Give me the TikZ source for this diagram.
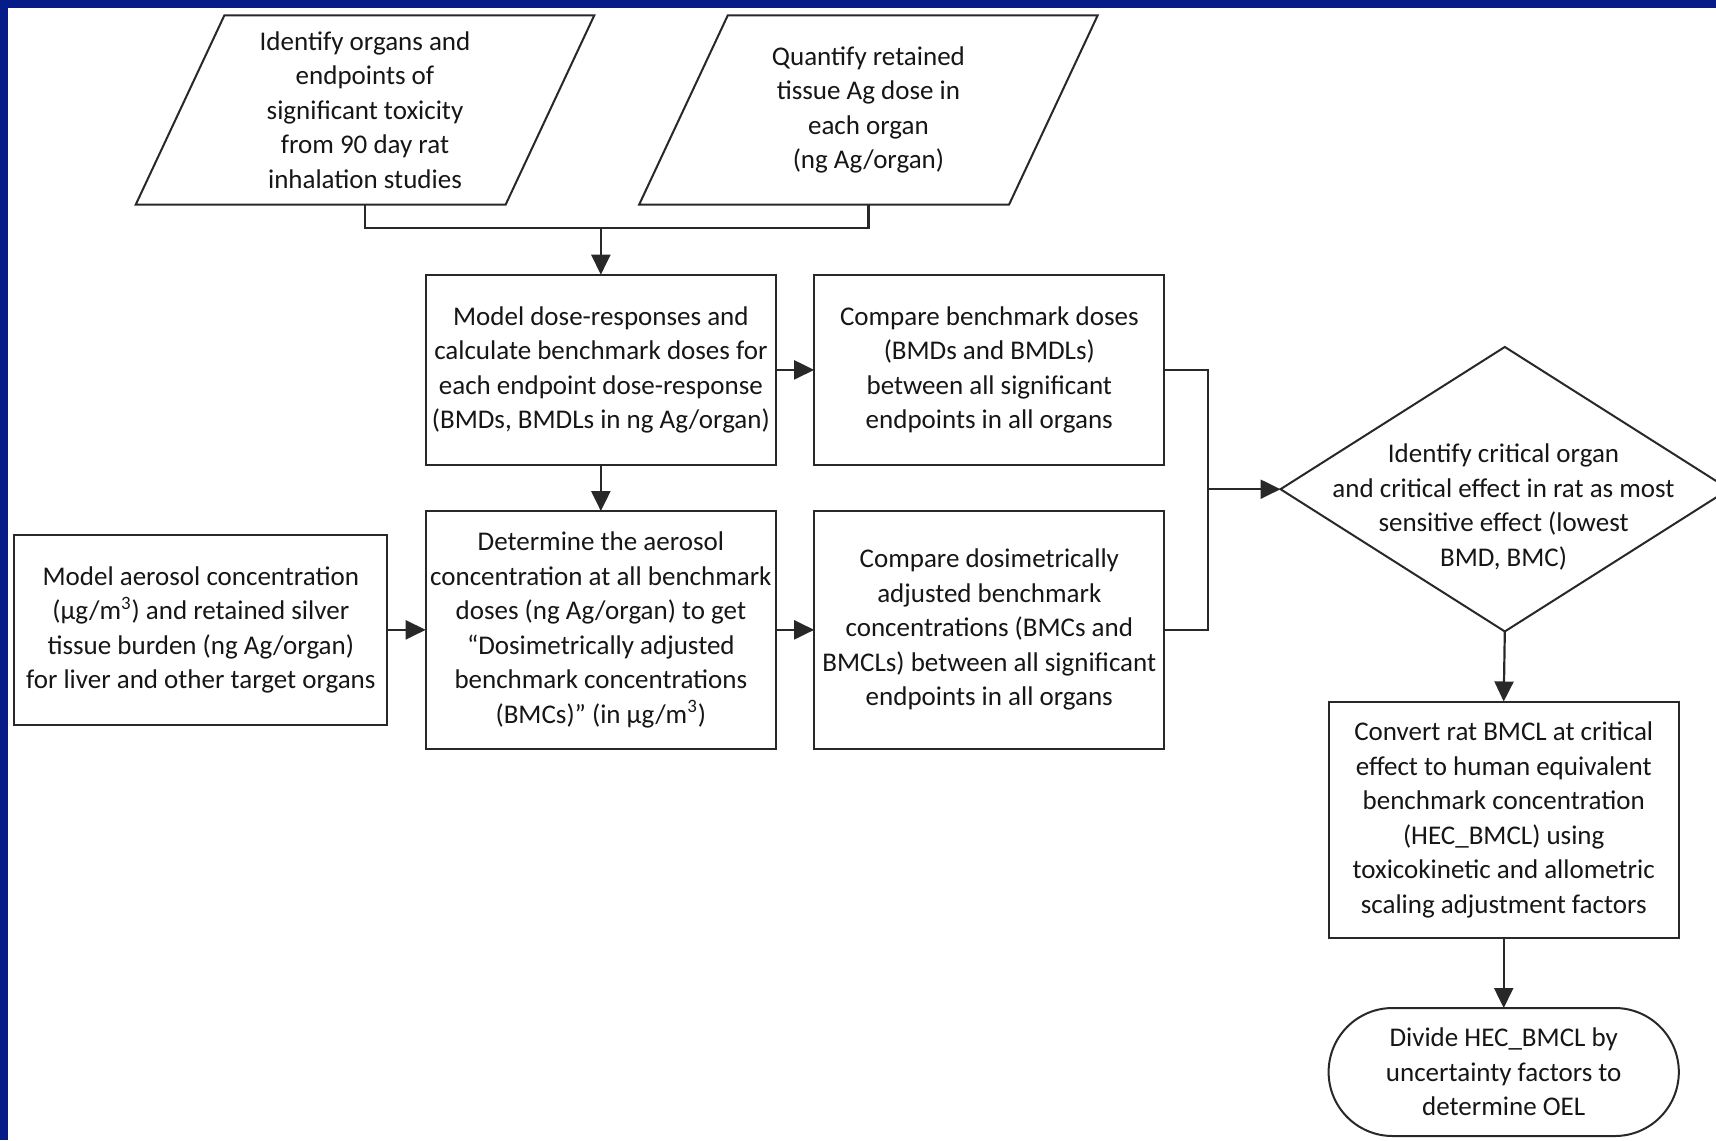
\documentclass[tikz,border=0pt]{standalone}
\usepackage{fontspec}
\setmainfont{Carlito}
\usetikzlibrary{arrows.meta,shapes.geometric}
\definecolor{frameblue}{RGB}{6,28,136}
\definecolor{linegray}{RGB}{40,40,40}
\definecolor{inkgray}{RGB}{22,22,22}
\begin{document}
\begin{tikzpicture}[x=0.5pt,y=-0.5pt,
  every node/.style={font=\fontsize{13.5}{17.25}\selectfont, text=inkgray, align=center, inner sep=0pt, outer sep=0pt},
  box/.style={draw=linegray, line width=1pt, fill=white, minimum width=175.15pt, minimum height=95.2pt},
  tallbox/.style={box, minimum height=118.75pt},
  paratext/.style={minimum width=229.3pt, minimum height=94.7pt},
  decision/.style={draw=linegray, line width=1pt, diamond, minimum width=224.3pt, minimum height=142.25pt},
  terminal/.style={draw=linegray, line width=1pt, rounded corners=32pt, minimum width=175.1pt, minimum height=64pt},
  link/.style={draw=linegray, line width=1.1pt},
  flow/.style={link, -{Triangle[length=10pt,width=9.5pt]}}
]
% page and frame
\useasboundingbox (0,0) rectangle (1716,1140);
\fill[white] (0,0) rectangle (1716,1140);
\fill[frameblue] (0,0) rectangle (1716,8);
\fill[frameblue] (0,0) rectangle (8,1140);

% inputs (parallelograms drawn around their text nodes)
\node[paratext] (p1) at (365,110) {Identify organs and\\ endpoints of\\ significant toxicity\\ from 90 day rat\\ inhalation studies};
\node[paratext] (p2) at (868.4,110) {Quantify retained\\ tissue Ag dose in\\ each organ\\ (ng Ag/organ)};
\foreach \p in {p1,p2}
  \draw[link, line width=1pt, line join=miter] (\p.center) +(-140.6,-94.7) -- +(229.3,-94.7) -- +(140.6,94.7) -- +(-229.3,94.7) -- cycle;

% process boxes
\node[box] (b1) at (600.85,369.9) {Model dose-responses and\\ calculate benchmark doses for\\ each endpoint dose-response\\ (BMDs, BMDLs in ng Ag/organ)};
\node[box] (b2) at (989.3,369.9) {Compare benchmark doses\\ (BMDs and BMDLs)\\ between all significant\\ endpoints in all organs};
\node[box, minimum width=186.6pt, minimum height=94.65pt] (b0) at (200.8,629.85) {Model aerosol concentration\\ (µg/m\textsuperscript{3}) and retained silver\\ tissue burden (ng Ag/organ)\\ for liver and other target organs};
\node[tallbox] (b3) at (600.85,629.85) {Determine the aerosol\\ concentration at all benchmark\\ doses (ng Ag/organ) to get\\ “Dosimetrically adjusted\\ benchmark concentrations\\ (BMCs)” (in µg/m\textsuperscript{3})};
\node[tallbox] (b4) at (989.3,629.85) {Compare dosimetrically\\ adjusted benchmark\\ concentrations (BMCs and\\ BMCLs) between all significant\\ endpoints in all organs};

% decision
\node[decision] (dia) at (1504.8,489.2) {};
\node (diat) at (1503.5,507) {Identify critical organ\\ and critical effect in rat as most\\ sensitive effect (lowest\\ BMD, BMC)};

% human conversion and end
\node[tallbox, minimum height=118.2pt] (b5) at (1503.7,819.7) {Convert rat BMCL at critical\\ effect to human equivalent\\ benchmark concentration\\ (HEC\_BMCL) using\\ toxicokinetic and allometric\\ scaling adjustment factors};
\node[terminal] (t) at (1503.7,1072) {Divide HEC\_BMCL by\\ uncertainty factors to\\ determine OEL};

% junction points
\coordinate (j1) at (600.85,227.6);
\coordinate (j2) at (1208.2,489.2);

% connectors
\draw[link] (p1.center |- p1.south) |- (j1);
\draw[link] (p2.center |- p2.south) |- (j1);
\draw[flow] (j1) -- (b1.north);
\draw[flow] (b1.east) -- (b2.west);
\draw[flow] (b1.south) -- (b3.north);
\draw[flow] (b0.east) -- (b3.west);
\draw[flow] (b3.east) -- (b4.west);
\draw[link] (b2.east) -| (j2);
\draw[link] (b4.east) -| (j2);
\draw[flow] (j2) -- (dia.west);
\draw[flow] (dia.south) -- (b5.north);
\draw[flow] (b5.south) -- (t.north);
\end{tikzpicture}
\end{document}
